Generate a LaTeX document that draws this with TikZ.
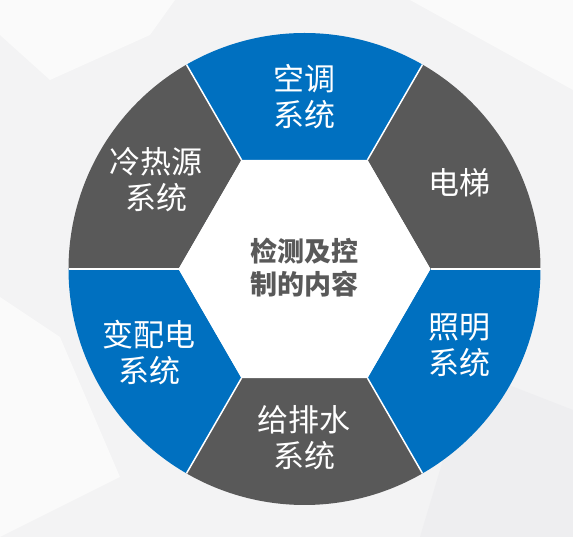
\documentclass[tikz,border=0pt]{standalone}
\usepackage{fontspec}
\newfontfamily\cjk{Noto Sans CJK SC}
\definecolor{secblue}{HTML}{0070C0}
\definecolor{secgray}{HTML}{595959}
\definecolor{bgbase}{HTML}{F3F3F4}
\definecolor{bglight}{HTML}{FAFAFA}
\definecolor{bgdark}{HTML}{EEEEF0}
\begin{document}
\begin{tikzpicture}[x=1pt,y=1pt,
  outer/.style={font=\cjk\fontsize{31}{36}\selectfont, text=white, align=center, inner sep=0pt},
  inner/.style={font=\cjk\bfseries\fontsize{27}{33}\selectfont, text=secgray, align=center, inner sep=0pt},
  sepline/.style={white, line width=1.5pt}]
\useasboundingbox (0,0) rectangle (573,537);
% background
\fill[bgbase] (0,0) rectangle (573,537);
\fill[bglight] (0,537) -- (175,537) -- (150,502) -- (50,457) -- (0,502) -- cycle;
\fill[bglight] (410,537) -- (573,537) -- (573,447) -- cycle;
\fill[bgdark] (470,167) -- (573,127) -- (573,0) -- (420,0) -- cycle;
\fill[bglight] (0,240) -- (60,200) -- (120,60) -- (0,0) -- cycle;
% sectors
\begin{scope}[shift={(304.5,268)}]
  \foreach \a/\c in {0/secgray,60/secblue,120/secgray,180/secblue,240/secgray,300/secblue}
    \fill[\c] (\a:126) -- (\a:236) arc[start angle=\a, end angle=\a+60, radius=236] -- (\a+60:126) -- cycle;
  \fill[white] (0:126) -- (60:126) -- (120:126) -- (180:126) -- (240:126) -- (300:126) -- cycle;
  \foreach \a in {0,60,...,300}
    \draw[sepline] (\a:126) -- (\a:236);
\end{scope}
% labels
\node[inner] (core) at (304.5,269) {检测及控\\制的内容};
\node[outer] (kt)  at (304,440.5) {空调\\系统};
\node[outer] (dt)  at (459,354)   {电梯};
\node[outer] (zm)  at (459,191.5) {照明\\系统};
\node[outer] (gps) at (304,99.5)  {给排水\\系统};
\node[outer] (bpd) at (149,184.5) {变配电\\系统};
\node[outer] (lry) at (156,357.5) {冷热源\\系统};
\end{tikzpicture}
\end{document}
